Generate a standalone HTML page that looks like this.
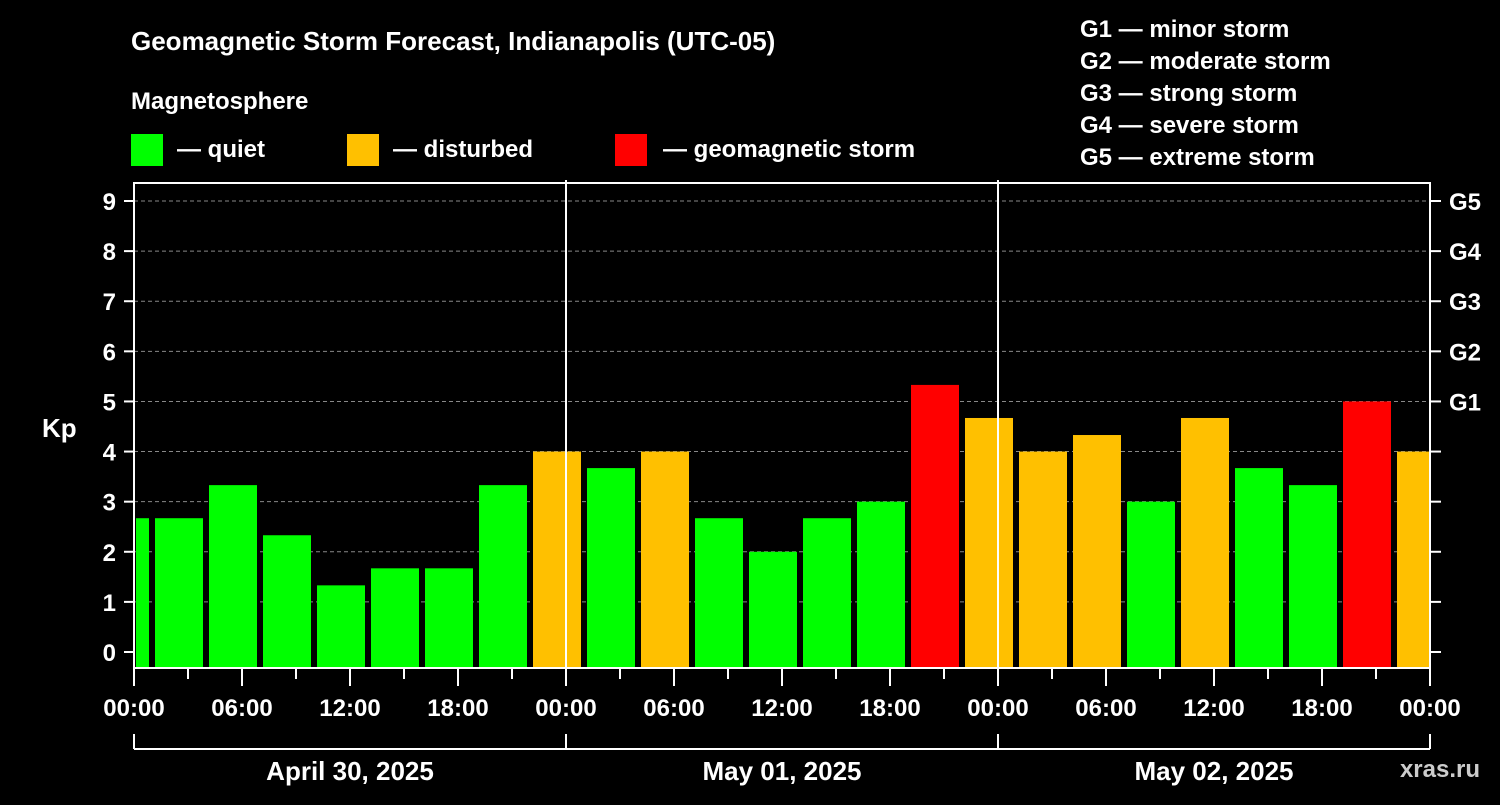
<!DOCTYPE html>
<html><head><meta charset="utf-8"><style>
body{margin:0;background:#000;width:1500px;height:800px;overflow:hidden}
svg text{font-family:"Liberation Sans",sans-serif;font-weight:bold;fill:#fff}
</style></head><body>
<svg id="c" width="1500" height="800" xmlns="http://www.w3.org/2000/svg">
<text x="131" y="50" font-size="26">Geomagnetic Storm Forecast, Indianapolis (UTC-05)</text>
<text x="131" y="109" font-size="24">Magnetosphere</text>
<g><rect x="131" y="134" width="32" height="32" fill="#00ff00"/><text x="177" y="157" font-size="24">— quiet</text></g>
<g><rect x="347" y="134" width="32" height="32" fill="#ffc000"/><text x="393" y="157" font-size="24">— disturbed</text></g>
<g><rect x="615" y="134" width="32" height="32" fill="#ff0000"/><text x="663" y="157" font-size="24">— geomagnetic storm</text></g>
<g font-size="24">
<text x="1080" y="37">G1 — minor storm</text><text x="1080" y="69">G2 — moderate storm</text><text x="1080" y="101">G3 — strong storm</text><text x="1080" y="133">G4 — severe storm</text><text x="1080" y="165">G5 — extreme storm</text>
</g>
<text x="42" y="437" font-size="26">Kp</text>
<text x="1480" y="777" font-size="24" fill="#ccc" style="fill:#ccc" text-anchor="end">xras.ru</text>
<g id="grid"></g><g id="bars"></g><g id="axes"></g>
</svg>
<script>
const kpValues=[2.67,2.67,3.33,2.33,1.33,1.67,1.67,3.33,4.0,3.67,4.0,2.67,2.0,2.67,3.0,5.33,4.67,4.0,4.33,3.0,4.67,3.67,3.33,5.0,4.0];
const startHours=[-2,1,4,7,10,13,16,19,22,25,28,31,34,37,40,43,46,49,52,55,58,61,64,67,70];
const timeLabels=["00:00","06:00","12:00","18:00"];
const dayLabels=["April 30, 2025","May 01, 2025","May 02, 2025"];
const gLabels=["G1","G2","G3","G4","G5"];
const NS="http://www.w3.org/2000/svg";
const X0=134,X1=1430,Y0=183,YB=668,HOURS=72;
const xs=h=>X0+(h/HOURS)*(X1-X0);
const ys=v=>652-v*50.11;
function mk(p,t,a){const e=document.createElementNS(NS,t);for(const k in a)e.setAttribute(k,a[k]);p.appendChild(e);return e;}
const grid=document.getElementById('grid'),bars=document.getElementById('bars'),axes=document.getElementById('axes');
mk(grid,'clipPath',{id:'pc'}).appendChild(document.createElementNS(NS,'rect'));
const cr=grid.querySelector('#pc rect');cr.setAttribute('x',X0+2);cr.setAttribute('y',Y0);cr.setAttribute('width',X1-X0-2);cr.setAttribute('height',YB-Y0);
for(let v=1;v<=9;v++){const l=mk(grid,'line',{x1:X0,x2:X1,y1:ys(v),y2:ys(v),stroke:'#888','stroke-dasharray':'4,3','stroke-width':1});

}
bars.setAttribute('clip-path','url(#pc)');
kpValues.forEach((v,i)=>{const c=v>=5?'#ff0000':(v>=4?'#ffc000':'#00ff00');
const x=xs(startHours[i]);const w=xs(startHours[i]+3)-x;
const r=mk(bars,'rect',{x:x+3,y:ys(v),width:w-6,height:YB-ys(v),fill:c});

});
const frame=mk(axes,'rect',{x:X0,y:Y0,width:X1-X0,height:YB-Y0,fill:'none',stroke:'#fff','stroke-width':2});


for(let d=1;d<3;d++){const l=mk(axes,'line',{x1:xs(d*24),x2:xs(d*24),y1:180,y2:YB,stroke:'#fff','stroke-width':2});

}
for(let v=0;v<=9;v++){mk(axes,'line',{x1:124,x2:X0,y1:ys(v),y2:ys(v),stroke:'#fff','stroke-width':2});
mk(axes,'line',{x1:X1,x2:1441,y1:ys(v),y2:ys(v),stroke:'#fff','stroke-width':2});
const t=mk(axes,'text',{x:116,y:ys(v)+9,'font-size':24,'text-anchor':'end'});t.textContent=v;


if(v>=5){const g=mk(axes,'text',{x:1449,y:ys(v)+9,'font-size':24});g.textContent=gLabels[v-5];

}}
for(let h=0;h<=HOURS;h+=3){const major=h%6===0;mk(axes,'line',{x1:xs(h),x2:xs(h),y1:YB,y2:major?686:679,stroke:'#fff','stroke-width':2});
if(major){const t=mk(axes,'text',{x:xs(h),y:716,'font-size':24,'text-anchor':'middle'});t.textContent=h===72?'00:00':timeLabels[(h%24)/6];

}}
mk(axes,'line',{x1:X0,x2:X1,y1:749,y2:749,stroke:'#fff','stroke-width':2});
for(let d=0;d<=3;d++)mk(axes,'line',{x1:xs(d*24),x2:xs(d*24),y1:734,y2:749,stroke:'#fff','stroke-width':2});
dayLabels.forEach((s,i)=>{const t=mk(axes,'text',{x:xs(i*24+12),y:780,'font-size':26,'text-anchor':'middle'});t.textContent=s;

});
</script>
</body></html>
